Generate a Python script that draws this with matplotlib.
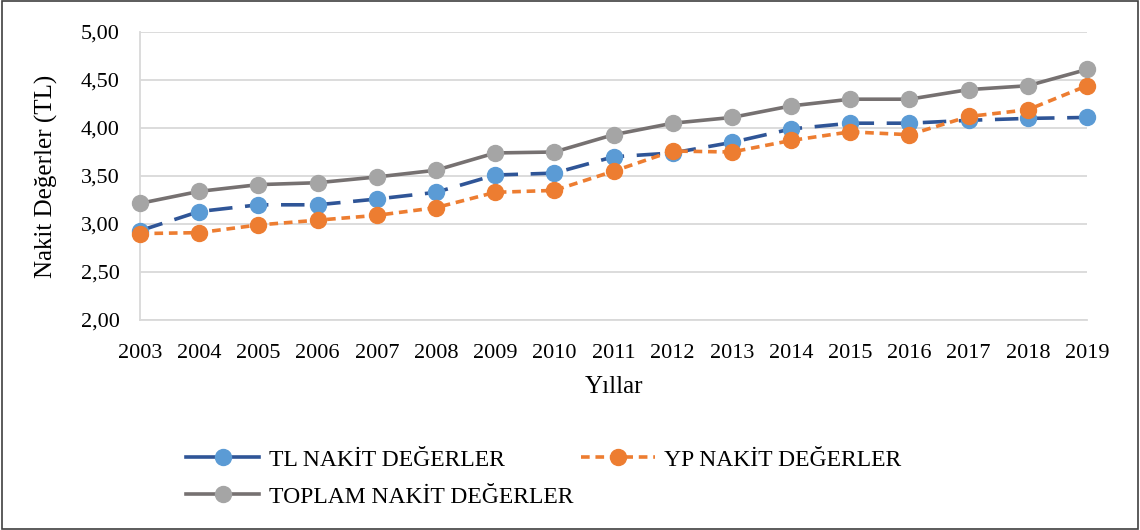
import matplotlib
matplotlib.use("Agg")
import matplotlib.pyplot as plt
from matplotlib.patches import Rectangle
from matplotlib.ticker import FuncFormatter

plt.rcParams['font.family'] = ['Liberation Serif', 'DejaVu Serif']

years = list(range(2003, 2020))
tl_values = [2.93, 3.13, 3.20, 3.20, 3.26, 3.33, 3.51, 3.53, 3.70, 3.74, 3.85, 3.99, 4.05, 4.05, 4.08, 4.10, 4.11]
yp_values = [2.90, 2.91, 2.99, 3.04, 3.09, 3.17, 3.33, 3.35, 3.55, 3.76, 3.75, 3.87, 3.96, 3.93, 4.12, 4.19, 4.44]
total_values = [3.215, 3.34, 3.41, 3.43, 3.49, 3.56, 3.74, 3.75, 3.93, 4.05, 4.11, 4.23, 4.30, 4.30, 4.40, 4.44, 4.61]
series_names = ["TL NAKİT DEĞERLER", "YP NAKİT DEĞERLER", "TOPLAM NAKİT DEĞERLER"]
y_ticks = [2.0, 2.5, 3.0, 3.5, 4.0, 4.5, 5.0]

fig = plt.figure(figsize=(11.4, 5.3), dpi=100)
ax = fig.add_axes([140/1140, 1-320/530, (1087-140)/1140, (320-32)/530])

l_tl, = ax.plot(years, tl_values, color='#2F5597', lw=2.6, dashes=(6.5, 3.5),
                marker='o', ms=11.5, mfc='#5B9BD5', mec='#5B9BD5', clip_on=False, zorder=3,
                label=series_names[0])
l_yp, = ax.plot(years, yp_values, color='#ED7D31', lw=2.6, dashes=(2.4, 1.6),
                marker='o', ms=11.5, mfc='#ED7D31', mec='#ED7D31', clip_on=False, zorder=4,
                label=series_names[1])
l_tot, = ax.plot(years, total_values, color='#767171', lw=2.6,
                 marker='o', ms=11.5, mfc='#A5A5A5', mec='#A5A5A5', clip_on=False, zorder=5,
                 label=series_names[2])

ax.set_xlim(2003, 2019)
ax.set_ylim(2.0, 5.0)
ax.set_xticks(years)
ax.set_xticklabels([str(y) for y in years])
ax.set_yticks(y_ticks)
ax.yaxis.set_major_formatter(FuncFormatter(lambda v, p: f"{v:.2f}".replace('.', ',')))
ax.grid(axis='y', color='#D9D9D9', lw=1.3)
ax.set_axisbelow(True)
for s in ['top', 'right']:
    ax.spines[s].set_visible(False)
for s in ['left', 'bottom']:
    ax.spines[s].set_color('#D9D9D9')
    ax.spines[s].set_linewidth(1.3)
ax.tick_params(axis='both', length=0, labelsize=16, colors='black')
ax.tick_params(axis='x', pad=17)
ax.tick_params(axis='y', pad=14.5)

ax.set_ylabel("Nakit Değerler (TL)", fontsize=18)
ax.set_xlabel("Yıllar", fontsize=18)
ax.yaxis.set_label_coords(-(140-58)/947, 0.5)
ax.xaxis.set_label_coords(0.5, -(376-320)/288)

leg = fig.legend([l_tl, l_tot, l_yp], [series_names[0], series_names[2], series_names[1]],
                 ncol=2, loc='upper left', bbox_to_anchor=(186/1140, 1-449/530),
                 frameon=False, fontsize=17, handlelength=3.1, handletextpad=0.4,
                 columnspacing=0.35, labelspacing=0.66, numpoints=1, borderaxespad=0,
                 borderpad=0)
leg.get_lines()[0].set_linestyle('-')

fig.patches.append(Rectangle((0.002, 0.002), 0.996, 0.996, transform=fig.transFigure,
                             fill=False, edgecolor='#404040', lw=1.2))

fig.savefig("out.png", dpi=100)
